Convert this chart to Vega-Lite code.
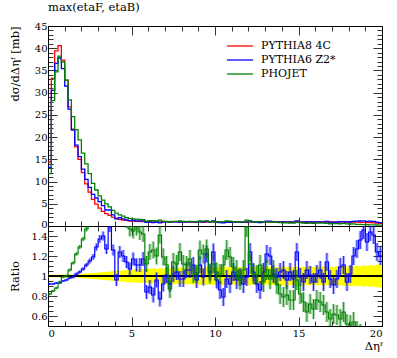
{
"$schema": "https://vega.github.io/schema/vega-lite/v6.json",
"padding": {"left": 8, "top": 1, "right": 5, "bottom": 2},
"spacing": 0,
"bounds": "flush",
"config": {
  "font": "DejaVu Serif",
  "view": {"stroke": "#000", "strokeWidth": 1},
  "axis": {"labelFont": "DejaVu Serif", "titleFont": "DejaVu Serif", "labelFontSize": 10, "titleFontSize": 11.5, "titleFontWeight": "normal", "labelColor": "#000", "titleColor": "#000", "tickColor": "#000", "tickWidth": 0.8, "domain": false, "grid": false}
},
"datasets": {"h": [
{"x0":0,"c":0.1,"r":14.4,"b":13.2,"g":11.8,"rb":0.92,"rg":0.82,"eb":0.01,"eg":0.012,"lo":0.988,"hi":1.012},
{"x0":0.2,"c":0.3,"r":33.2,"b":30.5,"g":28.2,"rb":0.92,"rg":0.85,"eb":0.01,"eg":0.012,"lo":0.988,"hi":1.012},
{"x0":0.4,"c":0.5,"r":39.4,"b":36.6,"g":34.7,"rb":0.93,"rg":0.88,"eb":0.01,"eg":0.012,"lo":0.987,"hi":1.013},
{"x0":0.6,"c":0.7,"r":40.6,"b":37.8,"g":38.2,"rb":0.93,"rg":0.94,"eb":0.01,"eg":0.012,"lo":0.987,"hi":1.013},
{"x0":0.8,"c":0.9,"r":37.3,"b":35.4,"g":36.9,"rb":0.95,"rg":0.99,"eb":0.01,"eg":0.012,"lo":0.986,"hi":1.014},
{"x0":1.0,"c":1.1,"r":32.8,"b":31.5,"g":32.8,"rb":0.96,"rg":1.0,"eb":0.012,"eg":0.014,"lo":0.985,"hi":1.015},
{"x0":1.2,"c":1.3,"r":26.8,"b":26.3,"g":28.4,"rb":0.98,"rg":1.06,"eb":0.012,"eg":0.015,"lo":0.984,"hi":1.016},
{"x0":1.4,"c":1.5,"r":21.8,"b":21.6,"g":24.6,"rb":0.99,"rg":1.13,"eb":0.014,"eg":0.016,"lo":0.983,"hi":1.017},
{"x0":1.6,"c":1.7,"r":17.8,"b":18.2,"g":21.7,"rb":1.02,"rg":1.22,"eb":0.015,"eg":0.018,"lo":0.982,"hi":1.018},
{"x0":1.8,"c":1.9,"r":15.0,"b":15.6,"g":19.4,"rb":1.04,"rg":1.29,"eb":0.016,"eg":0.02,"lo":0.98,"hi":1.02},
{"x0":2.0,"c":2.1,"r":12.0,"b":12.8,"g":16.4,"rb":1.07,"rg":1.37,"eb":0.018,"eg":0.022,"lo":0.978,"hi":1.022},
{"x0":2.2,"c":2.3,"r":9.5,"b":10.5,"g":14.0,"rb":1.11,"rg":1.47,"eb":0.02,"eg":0.025,"lo":0.976,"hi":1.024},
{"x0":2.4,"c":2.5,"r":7.6,"b":8.7,"g":11.8,"rb":1.15,"rg":1.55,"eb":0.025,"eg":0.03,"lo":0.973,"hi":1.027},
{"x0":2.6,"c":2.7,"r":6.0,"b":7.1,"g":9.6,"rb":1.19,"rg":1.6,"eb":0.03,"eg":0.035,"lo":0.97,"hi":1.03},
{"x0":2.8,"c":2.9,"r":4.9,"b":6.3,"g":8.1,"rb":1.29,"rg":1.65,"eb":0.035,"eg":0.04,"lo":0.967,"hi":1.033},
{"x0":3.0,"c":3.1,"r":4.0,"b":5.5,"g":6.8,"rb":1.37,"rg":1.7,"eb":0.04,"eg":0.045,"lo":0.964,"hi":1.036},
{"x0":3.2,"c":3.3,"r":3.3,"b":4.6,"g":5.8,"rb":1.4,"rg":1.75,"eb":0.045,"eg":0.05,"lo":0.96,"hi":1.04},
{"x0":3.4,"c":3.5,"r":2.8,"b":3.6,"g":5.0,"rb":1.27,"rg":1.8,"eb":0.05,"eg":0.055,"lo":0.957,"hi":1.043},
{"x0":3.6,"c":3.7,"r":2.4,"b":3.6,"g":4.3,"rb":1.49,"rg":1.8,"eb":0.05,"eg":0.06,"lo":0.954,"hi":1.046},
{"x0":3.8,"c":3.9,"r":2.0,"b":2.5,"g":3.5,"rb":1.26,"rg":1.75,"eb":0.055,"eg":0.065,"lo":0.95,"hi":1.05},
{"x0":4.0,"c":4.1,"r":1.7,"b":1.6,"g":2.9,"rb":0.96,"rg":1.7,"eb":0.06,"eg":0.07,"lo":0.947,"hi":1.053},
{"x0":4.2,"c":4.3,"r":1.5,"b":1.9,"g":2.5,"rb":1.24,"rg":1.65,"eb":0.06,"eg":0.07,"lo":0.945,"hi":1.055},
{"x0":4.4,"c":4.5,"r":1.35,"b":1.6,"g":2.2,"rb":1.2,"rg":1.6,"eb":0.06,"eg":0.07,"lo":0.942,"hi":1.058},
{"x0":4.6,"c":4.7,"r":1.25,"b":1.4,"g":1.9,"rb":1.14,"rg":1.55,"eb":0.06,"eg":0.07,"lo":0.94,"hi":1.06},
{"x0":4.8,"c":4.9,"r":1.15,"b":1.2,"g":1.7,"rb":1.07,"rg":1.47,"eb":0.065,"eg":0.075,"lo":0.938,"hi":1.062},
{"x0":5.0,"c":5.1,"r":1.1,"b":1.3,"g":1.6,"rb":1.17,"rg":1.45,"eb":0.065,"eg":0.075,"lo":0.936,"hi":1.064},
{"x0":5.2,"c":5.3,"r":1.05,"b":1.17,"g":1.55,"rb":1.11,"rg":1.48,"eb":0.065,"eg":0.075,"lo":0.934,"hi":1.066},
{"x0":5.4,"c":5.5,"r":1.02,"b":1.13,"g":1.47,"rb":1.11,"rg":1.44,"eb":0.07,"eg":0.08,"lo":0.932,"hi":1.068},
{"x0":5.6,"c":5.7,"r":1.0,"b":1.17,"g":1.42,"rb":1.17,"rg":1.42,"eb":0.07,"eg":0.08,"lo":0.93,"hi":1.07},
{"x0":5.8,"c":5.9,"r":0.98,"b":0.82,"g":1.1,"rb":0.84,"rg":1.12,"eb":0.07,"eg":0.08,"lo":0.93,"hi":1.07},
{"x0":6.0,"c":6.1,"r":0.96,"b":0.85,"g":1.19,"rb":0.89,"rg":1.24,"eb":0.07,"eg":0.08,"lo":0.928,"hi":1.072},
{"x0":6.2,"c":6.3,"r":0.95,"b":0.77,"g":1.2,"rb":0.81,"rg":1.26,"eb":0.075,"eg":0.085,"lo":0.925,"hi":1.075},
{"x0":6.4,"c":6.5,"r":0.94,"b":0.9,"g":1.13,"rb":0.96,"rg":1.2,"eb":0.075,"eg":0.085,"lo":0.93,"hi":1.07},
{"x0":6.6,"c":6.7,"r":0.93,"b":0.72,"g":1.31,"rb":0.77,"rg":1.41,"eb":0.075,"eg":0.085,"lo":0.922,"hi":1.078},
{"x0":6.8,"c":6.9,"r":0.93,"b":0.86,"g":1.11,"rb":0.92,"rg":1.19,"eb":0.075,"eg":0.085,"lo":0.926,"hi":1.074},
{"x0":7.0,"c":7.1,"r":0.92,"b":0.93,"g":1.02,"rb":1.01,"rg":1.11,"eb":0.08,"eg":0.09,"lo":0.92,"hi":1.08},
{"x0":7.2,"c":7.3,"r":0.92,"b":0.85,"g":0.8,"rb":0.92,"rg":0.87,"eb":0.08,"eg":0.09,"lo":0.924,"hi":1.076},
{"x0":7.4,"c":7.5,"r":0.91,"b":0.93,"g":1.04,"rb":1.02,"rg":1.14,"eb":0.08,"eg":0.09,"lo":0.918,"hi":1.082},
{"x0":7.6,"c":7.7,"r":0.91,"b":0.95,"g":1.02,"rb":1.04,"rg":1.12,"eb":0.08,"eg":0.09,"lo":0.922,"hi":1.078},
{"x0":7.8,"c":7.9,"r":0.9,"b":0.87,"g":1.12,"rb":0.97,"rg":1.24,"eb":0.08,"eg":0.09,"lo":0.916,"hi":1.084},
{"x0":8.0,"c":8.1,"r":0.9,"b":0.87,"g":1.01,"rb":0.97,"rg":1.12,"eb":0.08,"eg":0.09,"lo":0.92,"hi":1.08},
{"x0":8.2,"c":8.3,"r":0.9,"b":0.95,"g":1.0,"rb":1.06,"rg":1.11,"eb":0.08,"eg":0.09,"lo":0.914,"hi":1.086},
{"x0":8.4,"c":8.5,"r":0.9,"b":0.95,"g":1.05,"rb":1.06,"rg":1.17,"eb":0.08,"eg":0.09,"lo":0.92,"hi":1.08},
{"x0":8.6,"c":8.7,"r":0.9,"b":1.0,"g":0.92,"rb":1.11,"rg":1.02,"eb":0.08,"eg":0.09,"lo":0.915,"hi":1.085},
{"x0":8.8,"c":8.9,"r":0.9,"b":0.86,"g":0.92,"rb":0.96,"rg":1.02,"eb":0.08,"eg":0.09,"lo":0.918,"hi":1.082},
{"x0":9.0,"c":9.1,"r":0.9,"b":1.0,"g":1.13,"rb":1.11,"rg":1.26,"eb":0.085,"eg":0.095,"lo":0.912,"hi":1.088},
{"x0":9.2,"c":9.3,"r":0.9,"b":0.89,"g":1.1,"rb":0.99,"rg":1.22,"eb":0.085,"eg":0.095,"lo":0.917,"hi":1.083},
{"x0":9.4,"c":9.5,"r":0.9,"b":1.1,"g":1.14,"rb":1.22,"rg":1.27,"eb":0.085,"eg":0.095,"lo":0.91,"hi":1.09},
{"x0":9.6,"c":9.7,"r":0.9,"b":0.94,"g":0.92,"rb":1.04,"rg":1.02,"eb":0.085,"eg":0.095,"lo":0.915,"hi":1.085},
{"x0":9.8,"c":9.9,"r":0.9,"b":1.12,"g":1.01,"rb":1.24,"rg":1.12,"eb":0.085,"eg":0.095,"lo":0.912,"hi":1.088},
{"x0":10.0,"c":10.1,"r":0.9,"b":0.86,"g":0.94,"rb":0.96,"rg":1.04,"eb":0.085,"eg":0.095,"lo":0.91,"hi":1.09},
{"x0":10.2,"c":10.3,"r":0.9,"b":0.77,"g":0.92,"rb":0.86,"rg":1.02,"eb":0.09,"eg":0.1,"lo":0.915,"hi":1.085},
{"x0":10.4,"c":10.5,"r":0.9,"b":0.71,"g":1.0,"rb":0.79,"rg":1.11,"eb":0.09,"eg":0.1,"lo":0.908,"hi":1.092},
{"x0":10.6,"c":10.7,"r":0.9,"b":0.87,"g":1.13,"rb":0.97,"rg":1.26,"eb":0.09,"eg":0.1,"lo":0.913,"hi":1.087},
{"x0":10.8,"c":10.9,"r":0.9,"b":0.83,"g":1.07,"rb":0.92,"rg":1.19,"eb":0.09,"eg":0.1,"lo":0.91,"hi":1.09},
{"x0":11.0,"c":11.1,"r":0.9,"b":0.94,"g":0.98,"rb":1.04,"rg":1.09,"eb":0.09,"eg":0.1,"lo":0.916,"hi":1.084},
{"x0":11.2,"c":11.3,"r":0.9,"b":0.86,"g":0.95,"rb":0.96,"rg":1.06,"eb":0.09,"eg":0.1,"lo":0.908,"hi":1.092},
{"x0":11.4,"c":11.5,"r":0.9,"b":0.89,"g":0.86,"rb":0.99,"rg":0.96,"eb":0.09,"eg":0.1,"lo":0.912,"hi":1.088},
{"x0":11.6,"c":11.7,"r":0.9,"b":0.83,"g":0.95,"rb":0.92,"rg":1.06,"eb":0.09,"eg":0.1,"lo":0.91,"hi":1.09},
{"x0":11.8,"c":11.9,"r":0.9,"b":0.89,"g":1.34,"rb":0.99,"rg":1.49,"eb":0.09,"eg":0.1,"lo":0.914,"hi":1.086},
{"x0":12.0,"c":12.1,"r":0.9,"b":1.12,"g":1.01,"rb":1.24,"rg":1.12,"eb":0.09,"eg":0.1,"lo":0.908,"hi":1.092},
{"x0":12.2,"c":12.3,"r":0.9,"b":0.94,"g":0.92,"rb":1.04,"rg":1.02,"eb":0.09,"eg":0.1,"lo":0.912,"hi":1.088},
{"x0":12.4,"c":12.5,"r":0.9,"b":0.83,"g":0.91,"rb":0.92,"rg":1.01,"eb":0.09,"eg":0.1,"lo":0.906,"hi":1.094},
{"x0":12.6,"c":12.7,"r":0.9,"b":0.77,"g":1.0,"rb":0.86,"rg":1.11,"eb":0.09,"eg":0.1,"lo":0.913,"hi":1.087},
{"x0":12.8,"c":12.9,"r":0.9,"b":0.94,"g":0.85,"rb":1.04,"rg":0.94,"eb":0.09,"eg":0.1,"lo":0.91,"hi":1.09},
{"x0":13.0,"c":13.1,"r":0.9,"b":1.1,"g":0.95,"rb":1.22,"rg":1.06,"eb":0.09,"eg":0.1,"lo":0.914,"hi":1.086},
{"x0":13.2,"c":13.3,"r":0.9,"b":1.08,"g":0.87,"rb":1.2,"rg":0.97,"eb":0.09,"eg":0.1,"lo":0.907,"hi":1.093},
{"x0":13.4,"c":13.5,"r":0.9,"b":0.92,"g":0.95,"rb":1.02,"rg":1.06,"eb":0.09,"eg":0.1,"lo":0.911,"hi":1.089},
{"x0":13.6,"c":13.7,"r":0.9,"b":0.89,"g":0.83,"rb":0.99,"rg":0.92,"eb":0.09,"eg":0.1,"lo":0.909,"hi":1.091},
{"x0":13.8,"c":13.9,"r":0.9,"b":0.94,"g":0.74,"rb":1.04,"rg":0.82,"eb":0.09,"eg":0.1,"lo":0.913,"hi":1.087},
{"x0":14.0,"c":14.1,"r":0.9,"b":0.95,"g":0.71,"rb":1.06,"rg":0.79,"eb":0.09,"eg":0.1,"lo":0.906,"hi":1.094},
{"x0":14.2,"c":14.3,"r":0.9,"b":0.86,"g":0.73,"rb":0.96,"rg":0.81,"eb":0.09,"eg":0.1,"lo":0.912,"hi":1.088},
{"x0":14.4,"c":14.5,"r":0.9,"b":0.94,"g":0.68,"rb":1.04,"rg":0.76,"eb":0.09,"eg":0.1,"lo":0.908,"hi":1.092},
{"x0":14.6,"c":14.7,"r":0.9,"b":0.87,"g":0.68,"rb":0.97,"rg":0.76,"eb":0.09,"eg":0.1,"lo":0.91,"hi":1.09},
{"x0":14.8,"c":14.9,"r":0.9,"b":1.12,"g":0.86,"rb":1.24,"rg":0.96,"eb":0.09,"eg":0.1,"lo":0.905,"hi":1.095},
{"x0":15.0,"c":15.1,"r":0.9,"b":0.89,"g":0.74,"rb":0.99,"rg":0.82,"eb":0.09,"eg":0.1,"lo":0.912,"hi":1.088},
{"x0":15.2,"c":15.3,"r":0.9,"b":0.85,"g":0.67,"rb":0.94,"rg":0.74,"eb":0.09,"eg":0.1,"lo":0.907,"hi":1.093},
{"x0":15.4,"c":15.5,"r":0.9,"b":0.95,"g":0.58,"rb":1.06,"rg":0.64,"eb":0.09,"eg":0.1,"lo":0.91,"hi":1.09},
{"x0":15.6,"c":15.7,"r":0.9,"b":0.91,"g":0.65,"rb":1.01,"rg":0.72,"eb":0.09,"eg":0.1,"lo":0.904,"hi":1.096},
{"x0":15.8,"c":15.9,"r":0.9,"b":0.85,"g":0.6,"rb":0.94,"rg":0.67,"eb":0.09,"eg":0.1,"lo":0.91,"hi":1.09},
{"x0":16.0,"c":16.1,"r":0.9,"b":0.92,"g":0.68,"rb":1.02,"rg":0.76,"eb":0.09,"eg":0.1,"lo":0.906,"hi":1.094},
{"x0":16.2,"c":16.3,"r":0.9,"b":0.95,"g":0.67,"rb":1.06,"rg":0.74,"eb":0.09,"eg":0.1,"lo":0.91,"hi":1.09},
{"x0":16.4,"c":16.5,"r":0.9,"b":0.85,"g":0.64,"rb":0.94,"rg":0.71,"eb":0.09,"eg":0.1,"lo":0.903,"hi":1.097},
{"x0":16.6,"c":16.7,"r":0.9,"b":1.03,"g":0.58,"rb":1.14,"rg":0.64,"eb":0.09,"eg":0.1,"lo":0.908,"hi":1.092},
{"x0":16.8,"c":16.9,"r":0.9,"b":0.87,"g":0.51,"rb":0.97,"rg":0.57,"eb":0.09,"eg":0.1,"lo":0.905,"hi":1.095},
{"x0":17.0,"c":17.1,"r":0.9,"b":0.82,"g":0.56,"rb":0.91,"rg":0.62,"eb":0.09,"eg":0.1,"lo":0.91,"hi":1.09},
{"x0":17.2,"c":17.3,"r":0.9,"b":0.87,"g":0.55,"rb":0.97,"rg":0.61,"eb":0.09,"eg":0.1,"lo":0.902,"hi":1.098},
{"x0":17.4,"c":17.5,"r":0.9,"b":0.98,"g":0.51,"rb":1.09,"rg":0.57,"eb":0.09,"eg":0.1,"lo":0.907,"hi":1.093},
{"x0":17.6,"c":17.7,"r":0.9,"b":1.0,"g":0.58,"rb":1.11,"rg":0.64,"eb":0.09,"eg":0.1,"lo":0.9,"hi":1.1},
{"x0":17.8,"c":17.9,"r":0.9,"b":0.85,"g":0.47,"rb":0.94,"rg":0.52,"eb":0.09,"eg":0.1,"lo":0.905,"hi":1.095},
{"x0":18.0,"c":18.1,"r":0.88,"b":0.9,"g":0.45,"rb":1.02,"rg":0.51,"eb":0.09,"eg":0.1,"lo":0.9,"hi":1.1},
{"x0":18.2,"c":18.3,"r":0.87,"b":1.04,"g":0.47,"rb":1.2,"rg":0.54,"eb":0.09,"eg":0.1,"lo":0.903,"hi":1.097},
{"x0":18.4,"c":18.5,"r":0.85,"b":1.08,"g":0.38,"rb":1.27,"rg":0.45,"eb":0.09,"eg":0.1,"lo":0.897,"hi":1.103},
{"x0":18.6,"c":18.7,"r":0.83,"b":1.13,"g":0.35,"rb":1.36,"rg":0.42,"eb":0.09,"eg":0.1,"lo":0.902,"hi":1.098},
{"x0":18.8,"c":18.9,"r":0.8,"b":1.17,"g":0.32,"rb":1.46,"rg":0.4,"eb":0.09,"eg":0.1,"lo":0.895,"hi":1.105},
{"x0":19.0,"c":19.1,"r":0.78,"b":1.05,"g":0.3,"rb":1.34,"rg":0.38,"eb":0.09,"eg":0.1,"lo":0.9,"hi":1.1},
{"x0":19.2,"c":19.3,"r":0.75,"b":1.08,"g":0.27,"rb":1.44,"rg":0.36,"eb":0.09,"eg":0.1,"lo":0.892,"hi":1.108},
{"x0":19.4,"c":19.5,"r":0.72,"b":1.02,"g":0.25,"rb":1.41,"rg":0.35,"eb":0.09,"eg":0.1,"lo":0.896,"hi":1.104},
{"x0":19.6,"c":19.7,"r":0.68,"b":0.84,"g":0.22,"rb":1.24,"rg":0.33,"eb":0.09,"eg":0.1,"lo":0.888,"hi":1.112},
{"x0":19.8,"c":19.9,"r":0.62,"b":0.74,"g":0.19,"rb":1.2,"rg":0.3,"eb":0.09,"eg":0.1,"lo":0.885,"hi":1.115},
{"x0":20.0,"r":0.62,"b":0.74,"g":0.19,"rb":1.2,"rg":0.3,"lo":0.885,"hi":1.115}
]},
"vconcat": [
{
  "width": 334, "height": 200,
  "title": {"text": "max(etaF, etaB)", "anchor": "start", "frame": "group", "fontSize": 11.5, "fontWeight": "normal", "font": "DejaVu Serif", "color": "#000", "offset": 8},
  "data": {"name": "h"},
  "layer": [
    {"transform": [{"fold": ["r", "b", "g"]}],
     "mark": {"type": "line", "interpolate": "step-after", "strokeWidth": 1.3},
     "encoding": {
       "x": {"field": "x0", "type": "quantitative", "scale": {"domain": [0, 20], "nice": false, "zero": false},
             "axis": {"orient": "bottom", "values": [0,1,2,3,4,5,6,7,8,9,10,11,12,13,14,15,16,17,18,19,20], "labels": false, "title": null, "maxExtent": 0, "minExtent": 0,
                      "tickSize": {"condition": {"test": "datum.value % 5 === 0", "value": -9}, "value": -5}}},
       "y": {"field": "value", "type": "quantitative", "scale": {"domain": [0, 45], "nice": false},
             "axis": {"orient": "left", "values": [0,1,2,3,4,5,6,7,8,9,10,11,12,13,14,15,16,17,18,19,20,21,22,23,24,25,26,27,28,29,30,31,32,33,34,35,36,37,38,39,40,41,42,43,44,45],
                      "labelExpr": "datum.value % 5 === 0 ? datum.label : ''",
                      "labelOffset": {"condition": {"test": "datum.value === 0", "value": -2}, "value": 0},
                      "tickSize": {"condition": {"test": "datum.value % 5 === 0", "value": -9}, "value": -5},
                      "labelPadding": 10, "title": "dσ/dΔηᶠ [mb]", "titleAnchor": "end", "titlePadding": 6, "minExtent": 22, "maxExtent": 22}},
       "color": {"field": "key", "type": "nominal", "scale": {"domain": ["r", "b", "g"], "range": ["#ff0000", "#0000ff", "#008000"]},
                 "legend": {"orient": "none", "legendX": 186, "legendY": 14, "title": null, "symbolType": "M-2.6,0H2.6", "symbolSize": 100, "symbolStrokeWidth": 1.3,
                            "labelFont": "DejaVu Serif", "labelFontSize": 11, "labelColor": "#000", "labelOffset": 15, "rowPadding": 3,
                            "labelExpr": "datum.label === 'r' ? 'PYTHIA8 4C' : datum.label === 'b' ? 'PYTHIA6 Z2*' : 'PHOJET'"}}
     }},
    {"mark": {"type": "point", "opacity": 0},
     "encoding": {
       "x": {"field": "x0", "type": "quantitative", "scale": {"domain": [0, 20], "nice": false, "zero": false},
             "axis": {"orient": "top", "values": [0,1,2,3,4,5,6,7,8,9,10,11,12,13,14,15,16,17,18,19,20], "labels": false, "title": null, "maxExtent": 0, "minExtent": 0,
                      "tickSize": {"condition": {"test": "datum.value % 5 === 0", "value": -9}, "value": -5}}},
       "y": {"field": "r", "type": "quantitative", "scale": {"domain": [0, 45], "nice": false},
             "axis": {"orient": "right", "values": [0,1,2,3,4,5,6,7,8,9,10,11,12,13,14,15,16,17,18,19,20,21,22,23,24,25,26,27,28,29,30,31,32,33,34,35,36,37,38,39,40,41,42,43,44,45],
                      "labels": false, "title": null, "maxExtent": 0, "minExtent": 0,
                      "tickSize": {"condition": {"test": "datum.value % 5 === 0", "value": -9}, "value": -5}}}
     }}
  ],
  "resolve": {"axis": {"x": "independent", "y": "independent"}}
},
{
  "width": 334, "height": 100,
  "data": {"name": "h"},
  "layer": [
    {"mark": {"type": "area", "interpolate": "step-after", "color": "#ffff00"},
     "encoding": {
       "x": {"field": "x0", "type": "quantitative", "scale": {"domain": [0, 20], "nice": false, "zero": false},
             "axis": {"orient": "bottom", "values": [0,1,2,3,4,5,6,7,8,9,10,11,12,13,14,15,16,17,18,19,20],
                      "labelExpr": "datum.value % 5 === 0 ? datum.label : ''",
                      "tickSize": {"condition": {"test": "datum.value % 5 === 0", "value": -9}, "value": -5},
                      "labelPadding": 11, "title": "Δηᶠ", "titleAnchor": "end", "titlePadding": 2}},
       "y": {"field": "lo", "type": "quantitative", "scale": {"domain": [0.5, 1.5], "nice": false, "zero": false},
             "axis": {"orient": "left", "values": [0.5,0.55,0.6,0.65,0.7,0.75,0.8,0.85,0.9,0.95,1,1.05,1.1,1.15,1.2,1.25,1.3,1.35,1.4,1.45,1.5],
                      "format": "~g",
                      "labelExpr": "round(datum.value*100) % 20 === 0 ? datum.label : ''",
                      "tickSize": {"condition": {"test": "round(datum.value*100) % 20 === 0", "value": -9}, "value": -5},
                      "labelPadding": 10, "title": "Ratio", "titlePadding": 6, "minExtent": 22, "maxExtent": 22}},
       "y2": {"field": "hi"}
     }},
    {"mark": {"type": "rule", "color": "#000", "strokeWidth": 0.8},
     "encoding": {"y": {"datum": 1, "type": "quantitative", "axis": null}}},
    {"transform": [{"filter": "isValid(datum.c)"}],
     "mark": {"type": "errorbar", "thickness": 3.2, "color": "#0000ff", "opacity": 0.3, "clip": true},
     "encoding": {"x": {"field": "c", "type": "quantitative", "axis": null}, "y": {"field": "rb", "type": "quantitative", "axis": null}, "yError": {"field": "eb"}}},
    {"transform": [{"filter": "isValid(datum.c)"}],
     "mark": {"type": "errorbar", "thickness": 0.8, "color": "#0000ff", "clip": true},
     "encoding": {"x": {"field": "c", "type": "quantitative", "axis": null}, "y": {"field": "rb", "type": "quantitative", "axis": null}, "yError": {"field": "eb"}}},
    {"transform": [{"filter": "isValid(datum.c)"}],
     "mark": {"type": "errorbar", "thickness": 3.2, "color": "#008000", "opacity": 0.3, "clip": true},
     "encoding": {"x": {"field": "c", "type": "quantitative", "axis": null}, "y": {"field": "rg", "type": "quantitative", "axis": null}, "yError": {"field": "eg"}}},
    {"transform": [{"filter": "isValid(datum.c)"}],
     "mark": {"type": "errorbar", "thickness": 0.8, "color": "#008000", "clip": true},
     "encoding": {"x": {"field": "c", "type": "quantitative", "axis": null}, "y": {"field": "rg", "type": "quantitative", "axis": null}, "yError": {"field": "eg"}}},
    {"mark": {"type": "line", "interpolate": "step-after", "color": "#0000ff", "strokeWidth": 1.2, "clip": true},
     "encoding": {"x": {"field": "x0", "type": "quantitative", "axis": null}, "y": {"field": "rb", "type": "quantitative", "axis": null}}},
    {"mark": {"type": "line", "interpolate": "step-after", "color": "#008000", "strokeWidth": 1.2, "clip": true},
     "encoding": {"x": {"field": "x0", "type": "quantitative", "axis": null}, "y": {"field": "rg", "type": "quantitative", "axis": null}}},
    {"mark": {"type": "point", "opacity": 0},
     "encoding": {
       "x": {"field": "x0", "type": "quantitative",
             "axis": {"orient": "top", "values": [0,1,2,3,4,5,6,7,8,9,10,11,12,13,14,15,16,17,18,19,20], "labels": false, "title": null, "maxExtent": 0, "minExtent": 0,
                      "tickSize": {"condition": {"test": "datum.value % 5 === 0", "value": -9}, "value": -5}}},
       "y": {"field": "lo", "type": "quantitative",
             "axis": {"orient": "right", "values": [0.5,0.55,0.6,0.65,0.7,0.75,0.8,0.85,0.9,0.95,1,1.05,1.1,1.15,1.2,1.25,1.3,1.35,1.4,1.45,1.5],
                      "labels": false, "title": null, "maxExtent": 0, "minExtent": 0,
                      "tickSize": {"condition": {"test": "round(datum.value*100) % 20 === 0", "value": -9}, "value": -5}}}
     }}
  ],
  "resolve": {"axis": {"x": "independent", "y": "independent"}}
}
]
}
